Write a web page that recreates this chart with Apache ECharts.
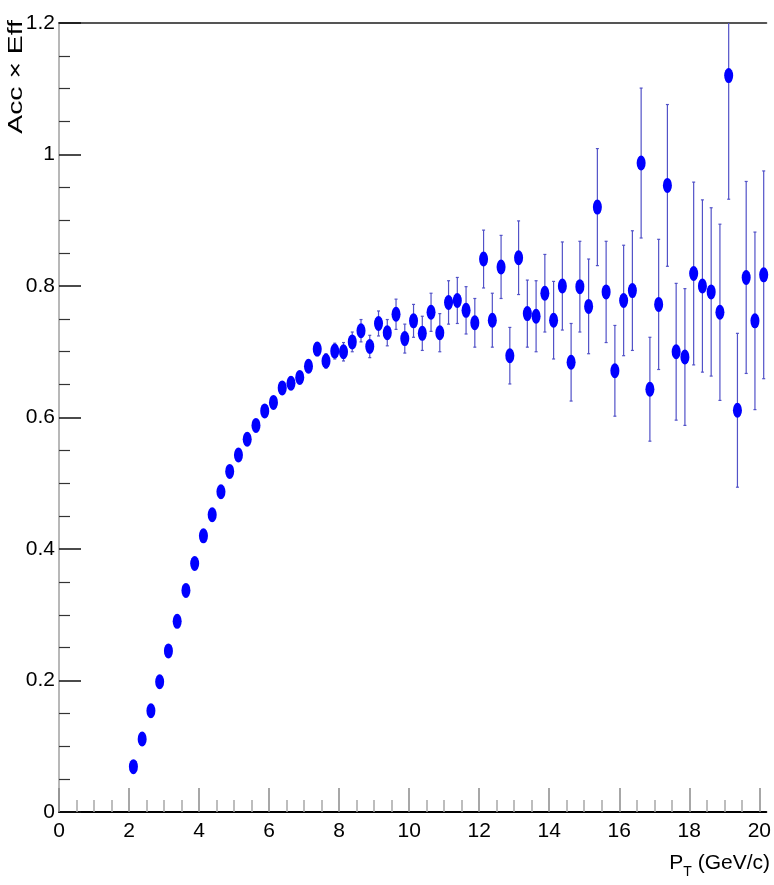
<!DOCTYPE html>
<html>
<head>
<meta charset="utf-8">
<title>Acc x Eff vs pT</title>
<script src="https://cdn.jsdelivr.net/npm/echarts@6/dist/echarts.min.js"></script>
<style>
  html, body { margin: 0; padding: 0; background: #fff; }
  #chart { width: 774px; height: 885px; }
</style>
</head>
<body>
<div id="chart"></div>
<script>
// bin centres (GeV/c)
const pt = [
  2.125, 2.375, 2.625, 2.875, 3.125, 3.375, 3.625, 3.875, 4.125, 4.375,
  4.625, 4.875, 5.125, 5.375, 5.625, 5.875, 6.125, 6.375, 6.625, 6.875,
  7.125, 7.375, 7.625, 7.875, 8.125, 8.375, 8.625, 8.875, 9.125, 9.375,
  9.625, 9.875, 10.125, 10.375, 10.625, 10.875, 11.125, 11.375, 11.625, 11.875,
  12.125, 12.375, 12.625, 12.875, 13.125, 13.375, 13.625, 13.875, 14.125, 14.375,
  14.625, 14.875, 15.125, 15.375, 15.625, 15.875, 16.125, 16.375, 16.625, 16.875,
  17.125, 17.375, 17.625, 17.875, 18.125, 18.375, 18.625, 18.875, 19.125, 19.375,
  19.625, 19.875, 20.125
]
// acceptance x efficiency
const accEff = [
  0.069, 0.111, 0.154, 0.198, 0.245, 0.290, 0.337, 0.378, 0.420, 0.452,
  0.487, 0.518, 0.543, 0.567, 0.588, 0.610, 0.623, 0.645, 0.652, 0.661,
  0.678, 0.704, 0.686, 0.701, 0.700, 0.715, 0.732, 0.708, 0.743, 0.729,
  0.757, 0.720, 0.747, 0.728, 0.760, 0.729, 0.775, 0.778, 0.763, 0.744,
  0.841, 0.748, 0.829, 0.694, 0.843, 0.758, 0.754, 0.789, 0.748, 0.800,
  0.684, 0.799, 0.769, 0.920, 0.791, 0.671, 0.778, 0.793, 0.987, 0.643,
  0.772, 0.953, 0.700, 0.692, 0.819, 0.800, 0.791, 0.760, 1.120, 0.611,
  0.813, 0.747, 0.817
]
// statistical error (symmetric)
const accEffErr = [
  0.002, 0.003, 0.003, 0.004, 0.004, 0.004, 0.005, 0.005, 0.005, 0.006,
  0.006, 0.006, 0.007, 0.007, 0.007, 0.008, 0.008, 0.008, 0.009, 0.009,
  0.009, 0.010, 0.011, 0.012, 0.014, 0.015, 0.017, 0.017, 0.019, 0.020,
  0.023, 0.022, 0.025, 0.026, 0.029, 0.029, 0.033, 0.035, 0.036, 0.037,
  0.044, 0.041, 0.048, 0.043, 0.056, 0.051, 0.054, 0.059, 0.059, 0.067,
  0.059, 0.069, 0.072, 0.089, 0.077, 0.069, 0.084, 0.091, 0.114, 0.079,
  0.099, 0.123, 0.104, 0.104, 0.139, 0.131, 0.128, 0.134, 0.188, 0.117,
  0.146, 0.135, 0.158
]
// tick positions on the pT axis
const xMajorTicks = [0, 2, 4, 6, 8, 10, 12, 14, 16, 18, 20]
const xMinorTicks = [0.5, 1, 1.5, 2.5, 3, 3.5, 4.5, 5, 5.5, 6.5, 7, 7.5, 8.5, 9, 9.5,
  10.5, 11, 11.5, 12.5, 13, 13.5, 14.5, 15, 15.5, 16.5, 17, 17.5, 18.5, 19, 19.5]

const labelFont = "'Liberation Sans', Arial, sans-serif"

const chart = echarts.init(document.getElementById('chart'))

const points = pt.map((x, i) => [x, accEff[i], accEffErr[i]])

// vertical error bar with small end caps
function renderErrorBar (params, api) {
  const x = api.value(0)
  const y = api.value(1)
  const e = api.value(2)
  const hi = api.coord([x, y + e])
  const lo = api.coord([x, y - e])
  const style = { stroke: '#5252c8', lineWidth: 1.2 }
  return {
    type: 'group',
    children: [
      { type: 'line', shape: { x1: hi[0], y1: hi[1], x2: lo[0], y2: lo[1] }, style },
      { type: 'line', shape: { x1: hi[0] - 1.5, y1: hi[1], x2: hi[0] + 1.5, y2: hi[1] }, style },
      { type: 'line', shape: { x1: lo[0] - 1.5, y1: lo[1], x2: lo[0] + 1.5, y2: lo[1] }, style }
    ]
  }
}

const option = {
  animation: false,
  backgroundColor: '#fff',
  grid: { left: 59, right: 4, top: 23, bottom: 73, containLabel: false },
  xAxis: [
    {
      // main pT axis with labels and major ticks
      type: 'value',
      min: 0,
      max: 20.2,
      position: 'bottom',
      axisLine: { lineStyle: { color: '#000', width: 2 } },
      axisTick: { inside: true, length: 24, customValues: xMajorTicks, lineStyle: { color: '#8a8a8a', width: 1.5 } },
      axisLabel: { customValues: xMajorTicks, margin: 9, color: '#000', fontSize: 21, fontFamily: labelFont },
      splitLine: { show: false }
    },
    {
      // minor ticks only
      type: 'value',
      min: 0,
      max: 20.2,
      position: 'bottom',
      axisLine: { show: false },
      axisTick: { inside: true, length: 12, customValues: xMinorTicks, lineStyle: { color: '#a8a8a8', width: 1.5 } },
      axisLabel: { show: false },
      splitLine: { show: false }
    },
    {
      // top frame
      type: 'value',
      min: 0,
      max: 20.2,
      position: 'top',
      axisLine: { lineStyle: { color: '#555', width: 2 } },
      axisTick: { show: false },
      axisLabel: { show: false },
      splitLine: { show: false }
    }
  ],
  yAxis: [
    {
      type: 'value',
      min: 0,
      max: 1.2,
      interval: 0.2,
      position: 'left',
      axisLine: { lineStyle: { color: '#b0b0b0', width: 2 } },
      axisTick: { inside: true, length: 22, lineStyle: { color: '#111', width: 1.5 } },
      minorTick: { show: true, splitNumber: 4, length: 11, lineStyle: { color: '#333', width: 1.2 } },
      axisLabel: {
        margin: 4,
        color: '#000',
        fontSize: 21,
        fontFamily: labelFont,
        formatter: v => (v === 0 ? '0' : String(+v.toFixed(1)))
      },
      splitLine: { show: false }
    },
    {
      // right frame
      type: 'value',
      min: 0,
      max: 1.2,
      position: 'right',
      axisLine: { lineStyle: { color: '#b8b8b8', width: 2 } },
      axisTick: { show: false },
      axisLabel: { show: false },
      splitLine: { show: false }
    }
  ],
  graphic: [
    {
      type: 'text',
      x: 16,
      y: 20,
      rotation: Math.PI / 2,
      scaleX: 1.35,
      style: {
        text: 'Acc × Eff',
        align: 'right',
        verticalAlign: 'middle',
        fontSize: 21,
        fontFamily: labelFont,
        fill: '#000'
      }
    },
    {
      type: 'text',
      right: 4,
      top: 853,
      style: {
        text: '{p|P}{t|T}{p| (GeV/c)}',
        fill: '#000',
        fontFamily: labelFont,
        rich: {
          p: { fontSize: 21, fontFamily: labelFont, verticalAlign: 'top' },
          t: { fontSize: 14, fontFamily: labelFont, padding: [12, 0, 0, 0] }
        }
      }
    }
  ],
  series: [
    {
      name: 'error',
      type: 'custom',
      xAxisIndex: 0,
      yAxisIndex: 0,
      renderItem: renderErrorBar,
      encode: { x: 0, y: 1 },
      data: points,
      clip: true,
      z: 2
    },
    {
      name: 'Acc x Eff',
      type: 'scatter',
      xAxisIndex: 0,
      yAxisIndex: 0,
      symbol: 'path://M0,5 A5,5 0 1,0 10,5 A5,5 0 1,0 0,5 Z',
      symbolSize: [9, 15],
      itemStyle: { color: '#0000ff', opacity: 1 },
      data: points.map(p => [p[0], p[1]]),
      z: 3
    }
  ]
}

chart.setOption(option)
</script>
</body>
</html>
